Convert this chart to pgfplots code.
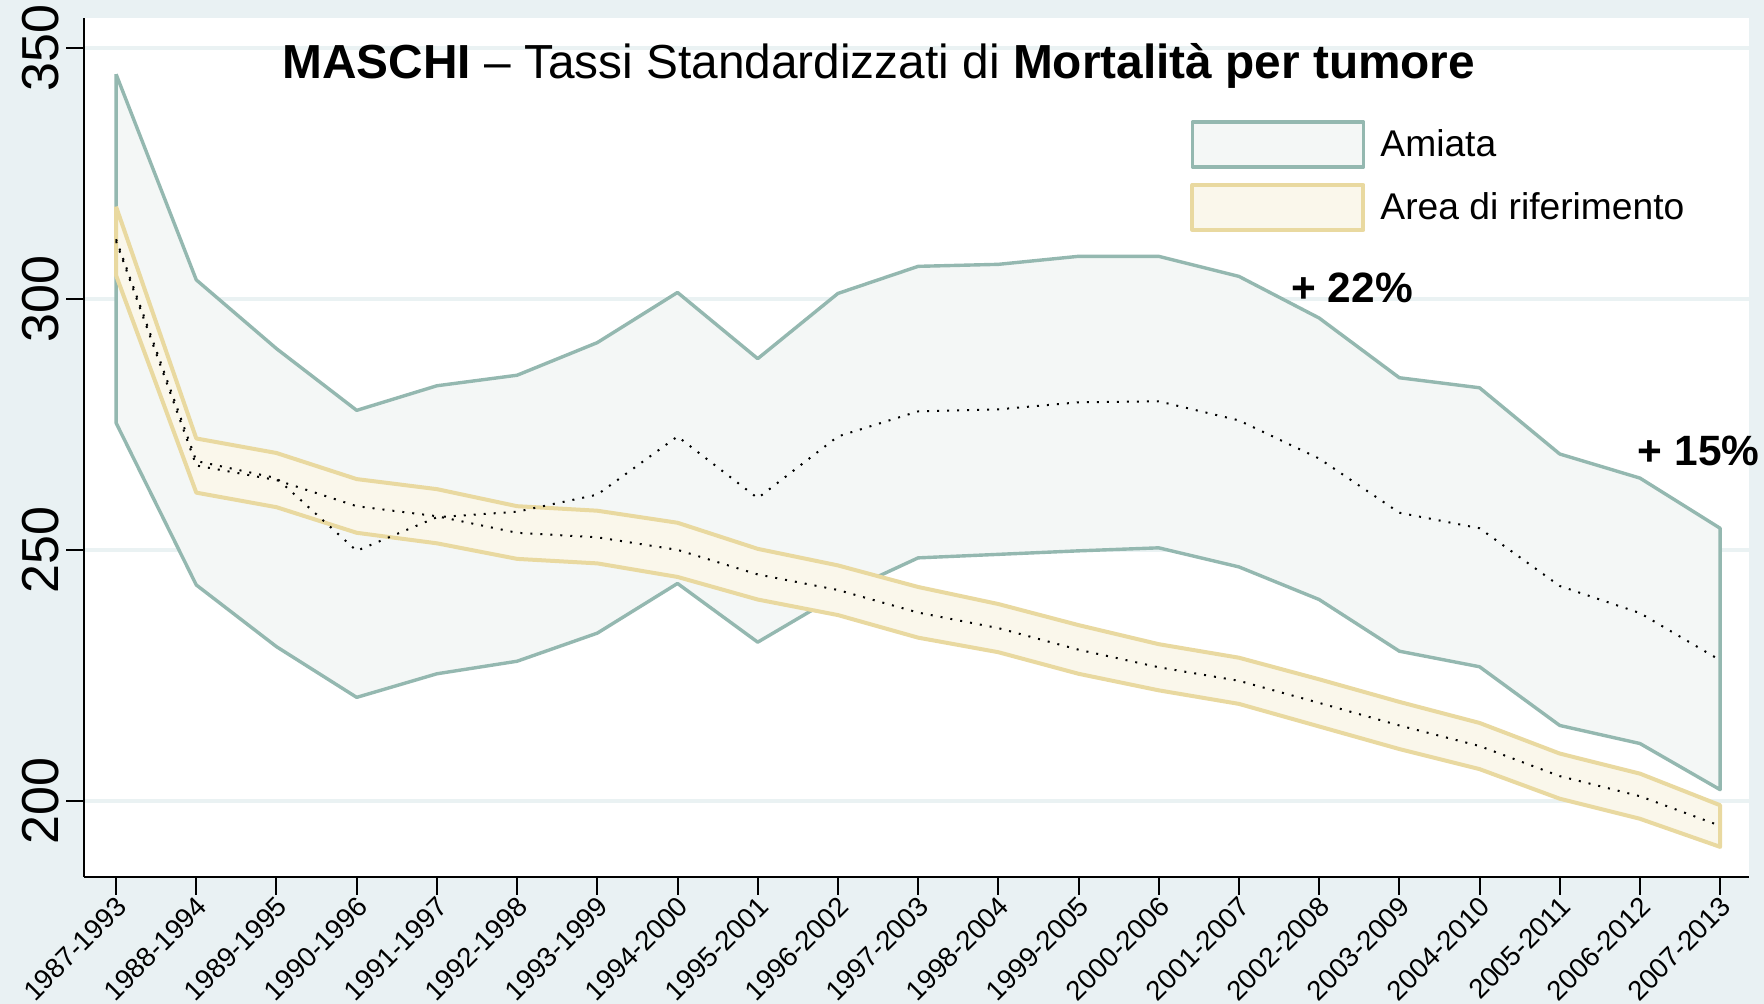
\documentclass[border=0pt]{standalone}
\usepackage{fontspec}
\setmainfont{Liberation Sans}
\usepackage{pgfplots}
\pgfplotsset{compat=1.18}
\usepackage{pgfplotstable}

\definecolor{bgc}{RGB}{233,241,243}
\definecolor{gridc}{RGB}{234,242,243}
\definecolor{amline}{RGB}{148,184,176}
\definecolor{amfill}{RGB}{244,247,246}
\definecolor{refline}{RGB}{233,217,160}
\definecolor{reffill}{RGB}{250,247,235}

% Amiata band: upper limit forward, lower limit backward
\pgfplotstableread{
x y
0 344.8
1 303.8
2 290.1
3 277.8
4 282.7
5 284.8
6 291.3
7 301.3
8 288.1
9 301.1
10 306.5
11 306.9
12 308.5
13 308.5
14 304.5
15 296.2
16 284.3
17 282.3
18 269.1
19 264.3
20 254.3
20 202.2
19 211.4
18 215.0
17 226.7
16 229.8
15 240.1
14 246.6
13 250.4
12 249.8
11 249.1
10 248.4
9 241.0
8 231.6
7 243.3
6 233.4
5 227.8
4 225.3
3 220.6
2 230.7
1 243.0
0 275.3
0 344.8
}\amband

% Reference band
\pgfplotstableread{
x y
0 318.4
1 272.2
2 269.3
3 264.1
4 262.1
5 258.7
6 257.8
7 255.4
8 250.2
9 246.9
10 242.6
11 239.2
12 235.0
13 231.2
14 228.5
15 224.2
16 219.7
17 215.5
18 209.4
19 205.4
20 199.1
20 190.8
19 196.4
18 200.4
17 206.3
16 210.3
15 214.8
14 219.3
13 222.0
12 225.3
11 229.6
10 232.5
9 237.0
8 240.1
7 244.6
6 247.3
5 248.2
4 251.3
3 253.4
2 258.5
1 261.4
0 304.7
0 318.4
}\refband

\pgfplotstableread{
x am ref
0 311.9 311.5
1 267.7 266.8
2 264.3 263.9
3 249.8 258.7
4 256.5 256.7
5 257.6 253.4
6 261.0 252.5
7 272.6 250.0
8 260.3 245.1
9 272.6 242.0
10 277.6 237.5
11 278.0 234.4
12 279.4 230.1
13 279.6 226.6
14 275.8 223.9
15 268.2 219.5
16 257.4 215.0
17 254.3 210.9
18 242.8 204.9
19 237.4 200.9
20 228.0 195.0
}\mid

\begin{document}
\begin{tikzpicture}
\fill[bgc] (0,0) rectangle (882pt,502pt);
\begin{axis}[
  at={(42pt,63.5pt)}, anchor=south west,
  scale only axis, width=832.5pt, height=429.5pt,
  xmin=-0.4, xmax=20.36, ymin=184.8, ymax=356,
  axis x line*=bottom, axis y line*=left,
  x axis line style={-}, y axis line style={-},
  axis line style={black, line width=1.2pt},
  axis background/.style={fill=white},
  ymajorgrids, major grid style={gridc, line width=2pt},
  ytick={200,250,300,350},
  xtick={0,...,20},
  xticklabels={1987-1993,1988-1994,1989-1995,1990-1996,1991-1997,1992-1998,1993-1999,1994-2000,1995-2001,1996-2002,1997-2003,1998-2004,1999-2005,2000-2006,2001-2007,2002-2008,2003-2009,2004-2010,2005-2011,2006-2012,2007-2013},
  tick style={black, line width=1pt},
  tick align=outside, major tick length=9pt,
  yticklabel style={rotate=90, anchor=south, font=\fontsize{26}{26}\selectfont},
  xticklabel style={rotate=45, anchor=east, xshift=3pt, yshift=-4.5pt, font=\fontsize{13.8}{15}\selectfont},
  /pgf/number format/assume math mode=true,
  clip=false,
  legend style={at={(0.6643,0.8813)}, anchor=north west, draw=none, fill=none,
    inner sep=0pt, row sep=7.1pt, font=\fontsize{18.6}{20}\selectfont},
  legend cell align=left,
  legend image code/.code={\draw[#1] (0pt,-11.25pt) rectangle (85.5pt,11.25pt); \path (91pt,0pt);},
]
\addplot[draw=amline, fill=amfill, line width=1.7pt, line join=round] table[x=x,y=y] {\amband};
\addlegendentry{Amiata}
\addplot[draw=refline, fill=reffill, line width=2pt, line join=round] table[x=x,y=y] {\refband};
\addlegendentry{Area di riferimento}
\addplot[forget plot, black, line width=1pt, dash pattern=on 1pt off 4pt] table[x=x,y=am] {\mid};
\addplot[forget plot, black, line width=1pt, dash pattern=on 1pt off 4pt] table[x=x,y=ref] {\mid};

\node[anchor=base, font=\fontsize{23.9}{24}\selectfont] at (axis cs:9.51,343.9)
  {\textbf{MASCHI} -- Tassi Standardizzati di \textbf{Mortalità per tumore}};
\node[anchor=west, inner sep=0pt, font=\bfseries\fontsize{21.2}{22}\selectfont] at (axis cs:14.65,302.2) {+ 22\%};
\node[anchor=west, inner sep=0pt, font=\bfseries\fontsize{21.2}{22}\selectfont] at (axis cs:18.97,269.7) {+ 15\%};
\end{axis}
\pgfresetboundingbox
\useasboundingbox (0,0) rectangle (882pt,502pt);
\end{tikzpicture}
\end{document}
